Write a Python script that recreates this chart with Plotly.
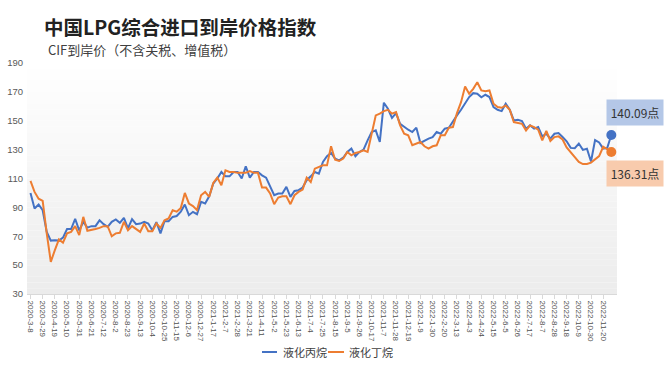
import datetime as dt
import plotly.graph_objects as go

# ---------------- data ----------------
start_date = dt.date(2020, 3, 8)
n_weeks = 144
categories = []
for k in range(n_weeks):
    d = start_date + dt.timedelta(days=7 * k)
    categories.append(f"{d.year}-{d.month}-{d.day}")

tick_labels = [
    "2020-3-8", "2020-3-29", "2020-4-19", "2020-5-10", "2020-5-31", "2020-6-21",
    "2020-7-12", "2020-8-2", "2020-8-23", "2020-9-13", "2020-10-4", "2020-10-25",
    "2020-11-15", "2020-12-6", "2020-12-27", "2021-1-17", "2021-2-7", "2021-2-28",
    "2021-3-21", "2021-4-11", "2021-5-2", "2021-5-23", "2021-6-13", "2021-7-4",
    "2021-7-25", "2021-8-15", "2021-9-5", "2021-9-26", "2021-10-17", "2021-11-7",
    "2021-11-28", "2021-12-19", "2022-1-9", "2022-1-30", "2022-2-20", "2022-3-13",
    "2022-4-3", "2022-4-24", "2022-5-15", "2022-6-5", "2022-6-26", "2022-7-17",
    "2022-8-7", "2022-8-28", "2022-9-18", "2022-10-9", "2022-10-30", "2022-11-20",
]

propane = [
    100, 89.2, 92, 88, 73, 67, 67.3, 67, 69, 75,
    75, 82, 74, 80, 76, 77, 77, 81, 78.4, 76.5,
    80, 81.6, 79.3, 82.8, 75.4, 81.8, 78.4, 78.8, 80, 78.8,
    74.2, 79.8, 72, 80.4, 80.4, 83.4, 84, 87, 92, 84.6,
    86.9, 85.3, 93.8, 92.7, 97.7, 106.5, 110, 114.5, 111.5, 111.5,
    114.5, 114.5, 110, 118.5, 110.6, 114.5, 114.5, 112.2, 110.6, 104.2,
    98.4, 99.6, 99.6, 104.2, 97.3, 101.4, 101.9, 103.7, 108.8, 111.5,
    114.5, 113.4, 121.5, 125.4, 127.7, 123.8, 122.6, 124.4, 128.4, 130.7,
    125.4, 128.4, 130, 136.4, 142.2, 143.3, 135.3, 162.5, 158.3, 152,
    155.3, 147.9, 145.6, 143.8, 142.2, 145.2, 134.6, 136.4, 137.6, 138.7,
    142.2, 141, 144.5, 145.2, 149.8, 153.7, 157.6, 162.2, 166.4, 169.1,
    168.7, 166.2, 168, 166.4, 159.5, 157.6, 156.7, 161.8, 157.6, 150.2,
    150.7, 149.8, 144.5, 146.8, 144.5, 145.6, 139.2, 141, 137.6, 141,
    141.5, 138.7, 135.8, 131.2, 131, 134.2, 129.8, 130.6, 121.8, 136.6,
    135, 130.7, 131.2, 140.09,
]

butane = [
    108.3, 100.7, 96, 94.5, 72, 52.3, 60.4, 67.8, 65.5, 72,
    73, 77, 70.8, 83.4, 73.8, 74.2, 75, 75.8, 77, 77,
    70, 72, 72.4, 80, 74.2, 77, 75, 73, 78.8, 73.5,
    73.5, 78.8, 75.8, 81, 82.3, 88, 87, 89.5, 100, 92.7,
    90.9, 88.1, 98.4, 100.7, 97.3, 106.9, 110.6, 105.3, 115.7, 114.5,
    114.5, 113.9, 113.9, 113.9, 115.2, 113.9, 113.9, 103.7, 103.7, 99.6,
    92.2, 96.8, 97.7, 97.7, 92.2, 98.4, 100.7, 102.3, 110.6, 107.6,
    116.8, 118, 119.1, 119.1, 132.3, 123, 122.1, 123.8, 128.4, 126.1,
    127.7, 128.4, 129.5, 128.4, 142.2, 153.7, 154.9, 156.7, 157.6, 154.9,
    156, 146.8, 141, 139.9, 133, 134.1, 135.3, 132.3, 130.7, 132.3,
    133, 139.9, 139.9, 145.2, 145.6, 155.3, 162.9, 173.7, 168.7, 172.1,
    176.7, 171, 170.4, 171, 161.8, 159.5, 159, 160.6, 157.6, 149.1,
    148.4, 147.9, 143.3, 146.8, 145.6, 143.8, 136.4, 142.9, 136, 138.7,
    139.2, 137, 131.5, 128, 124.5, 121.5, 120, 120, 121, 123.5,
    125.5, 132, 130, 128.4,
]

series_names = ["液化丙烷", "液化丁烷"]
end_labels = ["140.09点", "136.31点"]
y_ticks = [30, 50, 70, 90, 110, 130, 150, 170, 190]

title_text = "中国LPG综合进口到岸价格指数"
subtitle_text = "CIF到岸价（不含关税、增值税）"

# ---------------- style ----------------
BLUE = "#4472C4"
ORANGE = "#ED7D31"
CJK = "Noto Sans CJK SC"
W, H = 671, 370
ML, MR, MT, MB = 27, 54, 63, 76
PW, PH = W - ML - MR, H - MT - MB


def px_x(x):
    return (x - ML) / PW


def px_y(y):
    return (H - MB - y) / PH


fig = go.Figure()

for name, vals, col in [(series_names[0], propane, BLUE), (series_names[1], butane, ORANGE)]:
    fig.add_trace(go.Scatter(
        x=categories, y=vals, mode="lines", name=name,
        line=dict(color=col, width=2),
        hoverinfo="x+y+name", showlegend=False,
    ))

# end markers
for vals, col in [(propane, BLUE), (butane, ORANGE)]:
    fig.add_trace(go.Scatter(
        x=[categories[-1]], y=[vals[-1]], mode="markers",
        marker=dict(color=col, size=10), showlegend=False, hoverinfo="skip",
    ))

# gradient plot background (stripes)
n_str = 40
top_c = (255, 255, 255)
bot_c = (236, 236, 236)
shapes = []
for s in range(n_str):
    f = (s + 0.5) / n_str
    r = round(top_c[0] + (bot_c[0] - top_c[0]) * f)
    g = round(top_c[1] + (bot_c[1] - top_c[1]) * f)
    b = round(top_c[2] + (bot_c[2] - top_c[2]) * f)
    shapes.append(dict(
        type="rect", xref="paper", yref="paper", layer="below",
        x0=0, x1=1, y0=1 - (s + 1) / n_str, y1=1 - s / n_str,
        fillcolor=f"rgb({r},{g},{b})", line=dict(width=0),
    ))

# manual legend (short line swatches like the reference)
legend_y = px_y(352)
legend_items = [(series_names[0], BLUE, 262, 277, 281), (series_names[1], ORANGE, 328, 344, 347)]
annotations = []
for name, col, lx0, lx1, tx in legend_items:
    shapes.append(dict(type="line", xref="paper", yref="paper",
                       x0=px_x(lx0), x1=px_x(lx1), y0=legend_y, y1=legend_y,
                       line=dict(color=col, width=2)))
    annotations.append(dict(text=name, xref="paper", yref="paper", x=px_x(tx), y=legend_y,
                            xanchor="left", yanchor="middle", showarrow=False,
                            font=dict(family=CJK, size=11, color="#404040")))

annotations += [
    dict(text=subtitle_text, xref="paper", yref="paper", x=px_x(46), y=px_y(49),
         xanchor="left", yanchor="middle", showarrow=False,
         font=dict(family=CJK, size=13, color="#404040")),
    dict(text=end_labels[0], x=categories[-1], y=propane[-1], xref="x", yref="y",
         xanchor="left", yanchor="bottom", xshift=-5, yshift=9, showarrow=False,
         bgcolor="#B4C7E7", borderpad=4, width=48,
         font=dict(family=CJK, size=12, color="#333333")),
    dict(text=end_labels[1], x=categories[-1], y=butane[-1], xref="x", yref="y",
         xanchor="left", yanchor="top", xshift=-5, yshift=-8, showarrow=False,
         bgcolor="#F8CBAD", borderpad=4, width=48,
         font=dict(family=CJK, size=12, color="#333333")),
]

fig.update_layout(
    width=W, height=H,
    margin=dict(l=ML, r=MR, t=MT, b=MB, autoexpand=False),
    paper_bgcolor="white", plot_bgcolor="white",
    title=dict(text=f"<b>{title_text}</b>", xref="container", yref="container",
               x=44 / W, xanchor="left", y=1 - 28 / H, yanchor="middle",
               pad=dict(l=0, r=0, t=0, b=0),
               font=dict(family=CJK, size=19.5, color="#222222")),
    showlegend=False,
    shapes=shapes,
    annotations=annotations,
    xaxis=dict(
        type="category", categoryorder="array", categoryarray=categories,
        range=[-0.86, len(categories) + 0.4], automargin=False,
        tickmode="array", tickvals=tick_labels, ticktext=tick_labels,
        tickangle=90, tickfont=dict(family="Liberation Sans", size=8, color="#505050"),
        showgrid=False, zeroline=False,
        showline=True, linecolor="#D9D9D9", linewidth=1,
        ticks="outside", ticklen=4, tickcolor="#D9D9D9",
    ),
    yaxis=dict(
        range=[30, 190], tickmode="array", tickvals=y_ticks, automargin=False,
        tickfont=dict(family="Liberation Sans", size=9.5, color="#595959"),
        showgrid=False, zeroline=False, showline=False,
        ticks="", ticklabelstandoff=3,
    ),
)

fig.write_html(
    "out.html",
    config={"displayModeBar": False},
    post_script="document.body.style.margin='0';document.body.style.overflow='hidden';",
)
